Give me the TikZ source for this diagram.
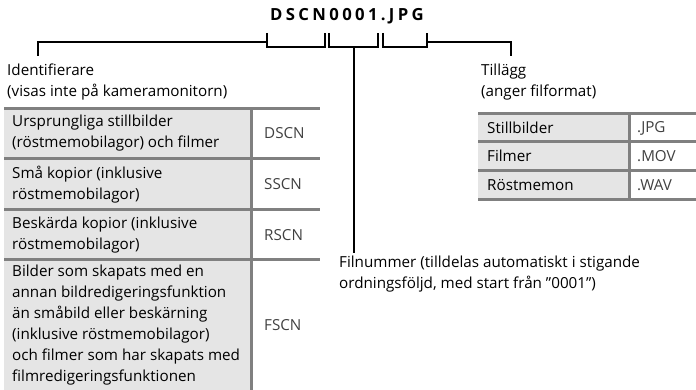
\documentclass[tikz,border=0pt]{standalone}
\usepackage{fontspec}
\setmainfont{Open Sans}
\newfontfamily\titlefont[LetterSpace=20]{Open Sans Bold}
\begin{document}
\begin{tikzpicture}[x=1pt,y=-1pt,
  lbl/.style={anchor=west,inner sep=0pt,font=\fontsize{15.2}{21}\selectfont,align=left},
  code/.style={anchor=west,inner sep=0pt,font=\fontsize{15.2}{21}\selectfont,text=black!75},
  brk/.style={line width=2pt,black},
  tline/.style={line width=3pt,black!50},
  cellfill/.style={fill=black!10,draw=none}]
\useasboundingbox (0,0) rectangle (696,390);
% title
\node[inner sep=0pt,font=\titlefont\fontsize{16.7}{18}\selectfont] (title) at (347,16) {DSCN0001.JPG};
% brackets
\coordinate (a1) at (267,33); \coordinate (a2) at (325,33);
\coordinate (b1) at (329,33); \coordinate (b2) at (378,33);
\coordinate (c1) at (383,33); \coordinate (c2) at (427,33);
\draw[brk] (a1) |- (325,47.5) -- (a2);
\draw[brk] (b1) |- (378,47.5) -- (b2);
\draw[brk] (c1) |- (427,47.5) -- (c2);
% labels
\node[lbl] (ident) at (7,82) {Identifierare\\(visas inte på kameramonitorn)};
\node[lbl] (till) at (481,82) {Tillägg\\(anger filformat)};
\node[lbl] (filn) at (339,274) {Filnummer (tilldelas automatiskt i stigande\\ordningsföljd, med start från ”0001”)};
\coordinate (identtop) at (38,56);
\coordinate (tilltop) at (511,56);
\coordinate (filntop) at (354,253);
\draw[brk] (267,42.5) -| (identtop);
\draw[brk] (427,42.5) -| (tilltop);
\draw[brk] (354,47.5) -- (filntop);
% left table
\fill[black!10] (4,109) rectangle (251,390);
\draw[tline] (4,109) -- (320,109);
\draw[tline] (4,158.5) -- (320,158.5);
\draw[tline] (4,210) -- (320,210);
\draw[tline] (4,259.5) -- (320,259.5);
\draw[tline] (251.5,107.5) -- (251.5,390);
\node[lbl] (r1) at (12,133.5) {Ursprungliga stillbilder\\(röstmemobilagor) och filmer};
\node[code] (c1t) at (264,133.5) {DSCN};
\node[lbl] (r2) at (12,184.5) {Små kopior (inklusive\\röstmemobilagor)};
\node[code] (c2t) at (264,184.5) {SSCN};
\node[lbl] (r3) at (12,235) {Beskärda kopior (inklusive\\röstmemobilagor)};
\node[code] (c3t) at (264,235) {RSCN};
\node[lbl] (r4) at (12,325) {Bilder som skapats med en\\annan bildredigeringsfunktion\\än småbild eller beskärning\\(inklusive röstmemobilagor)\\och filmer som har skapats med\\filmredigeringsfunktionen};
\node[code] (c4t) at (264,325) {FSCN};
% right table
\fill[black!10] (478,114) rectangle (629,200);
\draw[tline] (478,114) -- (696,114);
\draw[tline] (478,142) -- (696,142);
\draw[tline] (478,170.5) -- (696,170.5);
\draw[tline] (478,200) -- (696,200);
\draw[tline] (629.5,112.5) -- (629.5,201.5);
\node[lbl] (s1) at (487,128) {Stillbilder};
\node[code] (e1) at (637,128) {.JPG};
\node[lbl] (s2) at (487,156) {Filmer};
\node[code] (e2) at (637,156) {.MOV};
\node[lbl] (s3) at (487,185.5) {Röstmemon};
\node[code] (e3) at (637,185.5) {.WAV};
\end{tikzpicture}
\end{document}
